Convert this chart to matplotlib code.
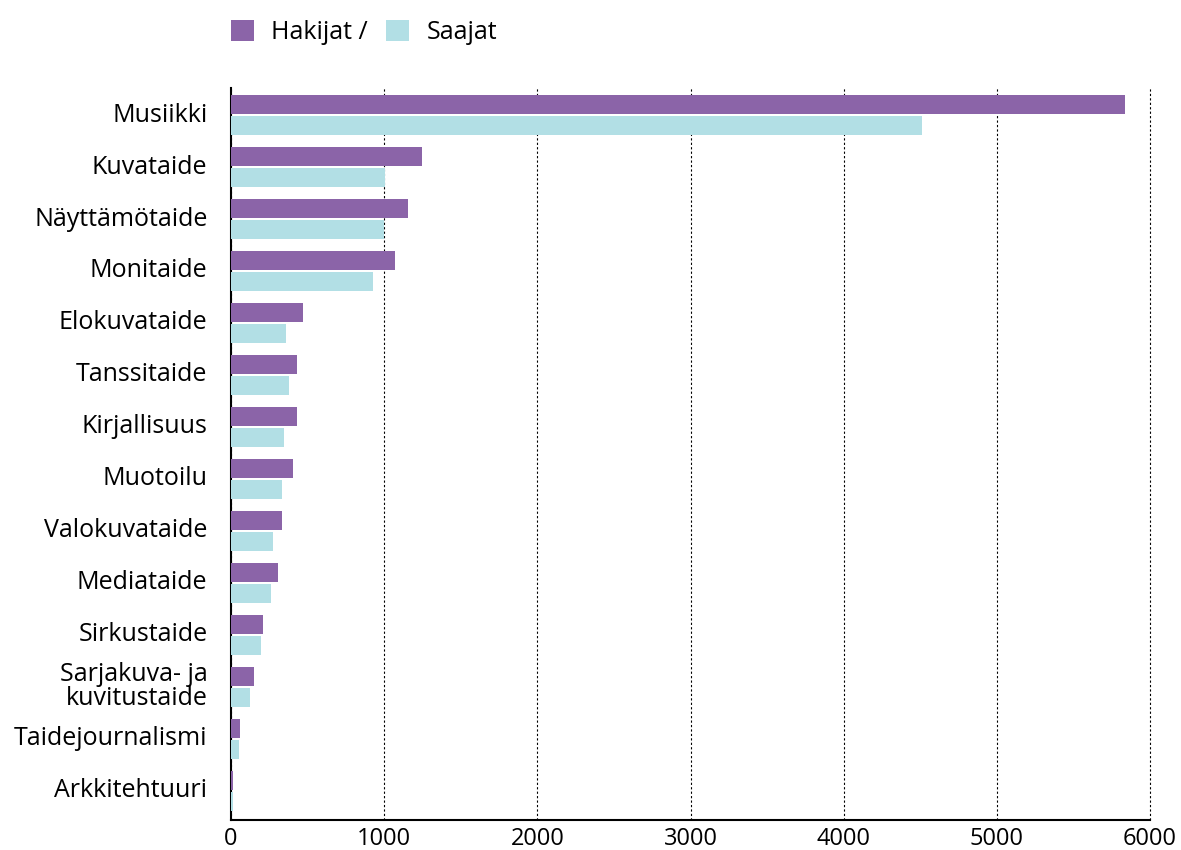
import numpy as np
import matplotlib.pyplot as plt
import matplotlib.transforms as mtransforms

plt.rcParams['font.family'] = ['Open Sans', 'DejaVu Sans']

alat = ['Musiikki', 'Kuvataide', 'Näyttämötaide', 'Monitaide', 'Elokuvataide',
        'Tanssitaide', 'Kirjallisuus', 'Muotoilu', 'Valokuvataide', 'Mediataide',
        'Sirkustaide', 'Sarjakuva- ja\nkuvitustaide', 'Taidejournalismi', 'Arkkitehtuuri']
hakijat = [5840, 1244, 1153, 1068, 473, 434, 428, 402, 336, 304, 212, 147, 62, 16]
saajat = [4510, 1003, 996, 924, 362, 376, 343, 330, 271, 258, 193, 121, 55, 12]

vari_hak = '#8b64a8'
vari_saa = '#b2dfe5'

fig = plt.figure(figsize=(11.81, 8.5), dpi=100)
ax = fig.add_axes([231 / 1181, 30 / 850, 919 / 1181, 732 / 850])

y = np.arange(len(alat))
h = 0.365
ax.barh(y - h / 2 - 0.02, hakijat, height=h, color=vari_hak, label='Hakijat /', zorder=3)
ax.barh(y + h / 2 + 0.02, saajat, height=h, color=vari_saa, label='Saajat', zorder=3)

ax.set_xlim(0, 6000)
ax.set_ylim(len(alat) - 1 + 0.56, -0.52)
ax.set_yticks(y)
ax.set_yticklabels(alat)
ax.set_xticks(np.arange(0, 6001, 1000))
ax.tick_params(axis='y', length=0, labelsize=18, pad=17)
ax.tick_params(axis='x', length=0, labelsize=17, pad=5)
siirto = mtransforms.ScaledTranslation(0, 3 / 100, fig.dpi_scale_trans)
for t in ax.get_yticklabels():
    t.set_horizontalalignment('right')
    t.set_multialignment('right')
    t.set_linespacing(0.95)
    t.set_transform(t.get_transform() + siirto)

ax.grid(axis='x', color='black', linestyle=(0, (2, 2)), linewidth=0.8, zorder=0)
for gl in ax.get_xgridlines():
    gl.set_clip_on(False)
for s in ['top', 'right']:
    ax.spines[s].set_visible(False)
ax.spines['left'].set_linewidth(1.5)
ax.spines['bottom'].set_linewidth(1.5)

fig.legend(loc='upper left', bbox_to_anchor=(208 / 1181, 1 + 3 / 850), ncol=2,
           frameon=False, fontsize=18, handlelength=0.92, handleheight=0.92,
           columnspacing=0.75, handletextpad=0.7)

fig.savefig('out.png', dpi=100)
